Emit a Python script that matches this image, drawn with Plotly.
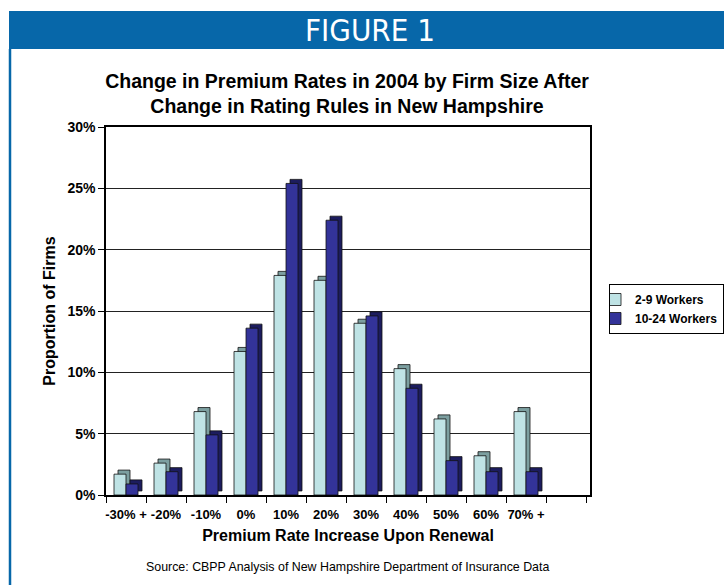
import plotly.graph_objects as go

# ---------------- data ----------------
categories = ["-30% +", "-20%", "-10%", "0%", "10%", "20%", "30%", "40%", "50%", "60%", "70% +", " "]
workers_2_9 = [1.7, 2.6, 6.8, 11.7, 17.9, 17.5, 14.0, 10.3, 6.2, 3.2, 6.8, None]
workers_10_24 = [0.9, 1.9, 4.9, 13.6, 25.4, 22.4, 14.6, 8.7, 2.8, 1.9, 1.9, None]
y_tick_values = [0, 5, 10, 15, 20, 25, 30]
y_tick_labels = ["0%", "5%", "10%", "15%", "20%", "25%", "30%"]
series_names = ["2-9 Workers", "10-24 Workers"]

# ---------------- style ----------------
W, H = 724, 585
FONT = "Liberation Sans, Arial, Helvetica, sans-serif"
LIGHT, LIGHT_SIDE = "#BFE3E5", "#7C9FA0"
DARK, DARK_SIDE = "#333399", "#1C1C5E"
BAR_W = 0.3          # bar width in category units (40 px per category)
DEPTH_X = 0.1        # 3-D depth shift (category units)
DEPTH_Y = 0.33       # 3-D depth shift (axis units, %)


def px(x):
    return x / W


def py(y):
    return 1 - y / H


fig = go.Figure()

series = [
    (workers_2_9, series_names[0], LIGHT, LIGHT_SIDE, -BAR_W),
    (workers_10_24, series_names[1], DARK, DARK_SIDE, 0.0),
]
for vals, name, col, side_col, off in series:
    # depth face (behind, shifted up/right to fake the 3-D look)
    fig.add_trace(go.Bar(
        x=categories, y=vals, base=DEPTH_Y,
        offset=off + DEPTH_X, width=BAR_W,
        marker=dict(color=side_col, line=dict(color="#111111", width=0.8)),
        showlegend=False, hoverinfo="skip"))
    # front face
    fig.add_trace(go.Bar(
        x=categories, y=vals, name=name,
        offset=off, width=BAR_W,
        marker=dict(color=col, line=dict(color="#111111", width=0.8))))

fig.update_layout(
    width=W, height=H,
    margin=dict(l=0, r=0, t=0, b=0, autoexpand=False),
    paper_bgcolor="white", plot_bgcolor="white",
    barmode="overlay",
    font=dict(family=FONT, color="black"),
    title=dict(
        text="<b>Change in Premium Rates in 2004 by Firm Size After<br>Change in Rating Rules in New Hampshire</b>",
        x=px(347), xanchor="center", y=py(88), yanchor="middle",
        font=dict(size=19.5, family=FONT, color="black")),
    xaxis=dict(
        domain=[px(106), px(590)], automargin=False,
        type="category", categoryorder="array", categoryarray=categories,
        range=[-0.5, 11.6],
        tickson="boundaries", ticks="outside", ticklen=6, tickcolor="black",
        tickangle=0, ticklabelstandoff=7,
        showline=True, linecolor="black", linewidth=1.5, mirror=True,
        showgrid=False,
        tickfont=dict(size=13, family=FONT, color="black", weight="bold"),
        title=dict(text="<b>Premium Rate Increase Upon Renewal</b>",
                   font=dict(size=16, family=FONT, color="black"), standoff=8),
    ),
    yaxis=dict(
        domain=[py(495), py(127)], automargin=False,
        range=[0, 30],
        tickvals=y_tick_values, ticktext=y_tick_labels,
        ticks="outside", ticklen=6, tickcolor="black",
        showline=True, linecolor="black", linewidth=1.5, mirror=True,
        showgrid=True, gridcolor="#222222", gridwidth=1,
        zeroline=False,
        tickfont=dict(size=14, family=FONT, color="black", weight="bold"),
        title=dict(text="<b>Proportion of Firms</b>",
                   font=dict(size=16, family=FONT, color="black"), standoff=8),
    ),
    legend=dict(
        x=px(609), y=py(284), xanchor="left", yanchor="top",
        bordercolor="black", borderwidth=1, bgcolor="white",
        font=dict(size=12, family=FONT, color="black", weight="bold"),
        itemwidth=30, tracegroupgap=0, indentation=-15,
    ),
    shapes=[
        # blue header band
        dict(type="rect", xref="paper", yref="paper",
             x0=px(9), x1=1, y0=py(49), y1=py(11),
             fillcolor="#0767A9", line=dict(width=0), layer="below"),
        # left blue frame line
        dict(type="line", xref="paper", yref="paper",
             x0=px(10), x1=px(10), y0=0, y1=py(49),
             line=dict(color="#0767A9", width=2.5), layer="below"),
    ],
    annotations=[
        dict(text="FIGURE 1", xref="paper", yref="paper",
             x=px(370), y=py(30), xanchor="center", yanchor="middle",
             showarrow=False,
             font=dict(size=31, color="white",
                       family="Liberation Sans Narrow, Arial Narrow, DejaVu Sans Condensed, sans-serif")),
        dict(text="Source: CBPP Analysis of New Hampshire Department of Insurance Data",
             xref="paper", yref="paper", x=px(347), y=py(567),
             xanchor="center", yanchor="middle", showarrow=False,
             font=dict(size=12.4, family=FONT, color="black")),
    ],
)

fig.write_html("out.html",
               config={"displayModeBar": False},
               post_script="document.body.style.margin='0';document.body.style.overflow='hidden';"
                           "document.documentElement.style.overflow='hidden';")
